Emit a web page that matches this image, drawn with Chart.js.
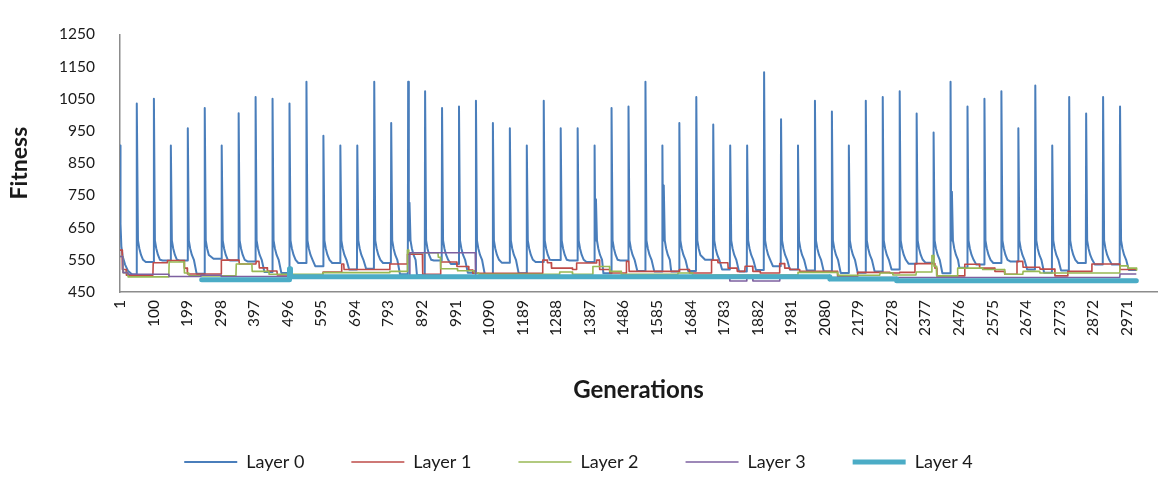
<!DOCTYPE html>
<html>
<head>
<meta charset="utf-8">
<script src="https://cdn.jsdelivr.net/npm/chart.js@4.4.1/dist/chart.umd.min.js"></script>
<style>
  html, body { margin: 0; padding: 0; background: #ffffff; }
  #wrap { width: 1158px; height: 477px; position: relative; }
</style>
</head>
<body>
<div id="wrap"><canvas id="fitnessChart"></canvas></div>
<script>
// --- Data ---
const xTickLabels = [1, 100, 199, 298, 397, 496, 595, 694, 793, 892, 991, 1090, 1189, 1288, 1387,
    1486, 1585, 1684, 1783, 1882, 1981, 2080, 2179, 2278, 2377, 2476, 2575, 2674, 2773, 2872, 2971];
const yTickLabels = [450, 550, 650, 750, 850, 950, 1050, 1150, 1250];
const seriesNames = ['Layer 0', 'Layer 1', 'Layer 2', 'Layer 3', 'Layer 4'];
const lastGen = 3000;

// Layer 0: start of the run, then one restart spike every 50 generations
const layer0Start = [[1, 905], [2, 770], [3, 662], [5, 592], [9, 560], [16, 535], [25, 515], [36, 505], [50, 504]];
const spikeGens = [51, 101, 151, 201, 251, 301, 351, 401, 451, 501, 551, 601, 651, 701, 751, 801, 851, 901, 951, 1001,
    1051, 1101, 1151, 1201, 1251, 1301, 1351, 1401, 1451, 1501, 1551, 1601, 1651, 1701, 1751, 1801, 1851, 1901, 1951, 2001,
    2051, 2101, 2151, 2201, 2251, 2301, 2351, 2401, 2451, 2501, 2551, 2601, 2651, 2701, 2751, 2801, 2851, 2901, 2951];
const spikePeaks = [1035, 1050, 905, 958, 1021, 905, 1005, 1055, 1050, 1035, 1103, 935, 905, 905, 1103, 975, 1103, 1073, 1021, 1026,
    1044, 975, 958, 905, 1044, 958, 958, 905, 1021, 1026, 1103, 905, 975, 1055, 970, 905, 905, 1132, 986, 905,
    1044, 1010, 905, 1044, 1055, 1073, 1004, 945, 1103, 1026, 1050, 1073, 958, 1091, 905, 1055, 1004, 1055, 1026];
const spikeFloors = [543, 548, 548, 507, 553, 548, 545, 512, 509, 540, 530, 540, 520, 522, 540, 505, 502, 548, 537, 510,
    505, 541, 508, 543, 549, 548, 543, 508, 548, 515, 514, 514, 515, 550, 520, 514, 518, 530, 520, 517,
    514, 509, 510, 514, 520, 538, 541, 508, 525, 535, 540, 545, 520, 510, 517, 540, 535, 535, 518];
// the stair-step fall after each spike: [generations after the peak, fitness]
const tailSteps = [[3, 610], [7, 585], [12, 565], [18, 550]];
// a few spikes have a second, smaller peak right after the first one
const secondGens = [855, 1405, 1605, 2455];
const secondPeaks = [727, 738, 781, 761];

// Layers 1-4: level changes, [generation, fitness] (the level holds until the next entry)
const layer1Steps = [[1, 580], [8, 520], [20, 502], [99, 541], [141, 548], [191, 524], [200, 506], [300, 549], [353, 537],
    [403, 545], [412, 525], [436, 515], [465, 503], [600, 512], [655, 537], [662, 520], [797, 537], [849, 567], [894, 505],
    [947, 543], [995, 529], [1030, 518], [1042, 508], [1248, 549], [1262, 541], [1274, 524], [1336, 520], [1348, 540],
    [1407, 549], [1416, 520], [1446, 509], [1495, 545], [1503, 514], [1651, 520], [1681, 509], [1746, 549], [1765, 541],
    [1795, 524], [1822, 514], [1845, 530], [1868, 514], [1890, 509], [1947, 538], [1962, 524], [1977, 520], [2006, 514],
    [2118, 497], [2177, 511], [2272, 509], [2301, 511], [2346, 538], [2405, 524], [2411, 500], [2493, 536], [2537, 524],
    [2582, 514], [2611, 505], [2647, 545], [2665, 527], [2715, 521], [2759, 500], [2797, 514], [2868, 537], [2951, 520],
    [3000, 520]];
const layer2Steps = [[1, 560], [10, 510], [25, 497], [146, 543], [191, 509], [205, 500], [344, 537], [391, 514], [441, 505],
    [600, 510], [797, 514], [849, 580], [853, 572], [940, 558], [947, 522], [997, 516], [1047, 509], [1060, 505],
    [1298, 512], [1336, 505], [1396, 529], [1446, 514], [1480, 505], [1647, 509], [1690, 503], [2001, 511], [2119, 502],
    [2243, 509], [2281, 503], [2350, 512], [2396, 563], [2402, 530], [2410, 500], [2472, 524], [2546, 520], [2611, 505],
    [2665, 514], [2715, 509], [2951, 531], [2975, 524], [3000, 518]];
const layer3Steps = [[1, 560], [10, 510], [25, 505], [146, 498], [240, 502], [300, 498], [856, 572], [1050, 500],
    [1800, 484], [1850, 495], [1868, 484], [1948, 495], [2300, 495], [2951, 506], [3000, 506]];
const layer4Steps = [[242, 488], [499, 488], [501, 522], [504, 497], [2095, 490], [2292, 485], [3000, 485]];

// --- Build the point lists ---
function buildLayer0() {
    const pts = layer0Start.map(([x, y]) => ({x, y}));
    spikeGens.forEach((g, i) => {
        const prevFloor = i === 0 ? layer0Start[layer0Start.length - 1][1] : spikeFloors[i - 1];
        const floor = spikeFloors[i];
        pts.push({x: g - 1, y: prevFloor}, {x: g, y: spikePeaks[i]});
        const j = secondGens.indexOf(g + 4);
        const shift = j >= 0 ? 4 : 0;
        if (j >= 0) {
            pts.push({x: g + 2, y: tailSteps[0][1]}, {x: g + 4, y: secondPeaks[j]});
        }
        tailSteps.forEach(([dx, v]) => {
            if (v > floor) pts.push({x: g + dx + shift, y: v});
        });
        pts.push({x: g + 26, y: floor});
    });
    pts.push({x: lastGen, y: spikeFloors[spikeFloors.length - 1]});
    return pts;
}

function buildSteps(steps) {
    const pts = [];
    steps.forEach(([g, v], i) => {
        pts.push({x: g, y: v});
        const next = steps[i + 1];
        if (next && next[0] - 1 > g) pts.push({x: next[0] - 1, y: v});
    });
    return pts;
}

const layerData = [buildLayer0(), buildSteps(layer1Steps), buildSteps(layer2Steps),
    buildSteps(layer3Steps), buildSteps(layer4Steps)];
const layerColors = ['#4a7ebb', '#be4b48', '#98b954', '#7d60a0', '#4bacc6'];
const layerWidths = [2, 1.6, 1.6, 1.6, 5];

// --- Chart ---
Chart.defaults.font.family = "Lato, 'Open Sans', sans-serif";
Chart.defaults.color = '#1a1a1a';

const ctx = document.getElementById('fitnessChart').getContext('2d');
const fitnessChart = new Chart(ctx, {
    type: 'line',
    data: {
        datasets: seriesNames.map((name, i) => ({
            label: name,
            data: layerData[i],
            borderColor: layerColors[i],
            backgroundColor: layerColors[i],
            borderWidth: layerWidths[i],
            borderCapStyle: i === 4 ? 'round' : 'butt',
            borderJoinStyle: 'round',
            pointRadius: 0,
            tension: 0,
            fill: false,
            order: 4 - i
        }))
    },
    options: {
        responsive: true,
        maintainAspectRatio: false,
        animation: false,
        events: [],
        layout: {
            padding: {top: 17, right: 1, bottom: -4, left: 0}
        },
        plugins: {
            legend: {
                position: 'bottom',
                labels: {
                    usePointStyle: true,
                    pointStyle: 'line',
                    pointStyleWidth: 53,
                    padding: 47,
                    color: '#1a1a1a',
                    font: {size: 18},
                    sort: (a, b) => a.datasetIndex - b.datasetIndex
                }
            },
            tooltip: {enabled: false}
        },
        scales: {
            x: {
                type: 'linear',
                min: 1,
                max: 3060,
                grid: {display: false, drawTicks: false},
                border: {display: true, color: '#8c8c8c', width: 1.5},
                afterBuildTicks: (scale) => {
                    scale.ticks = xTickLabels.map(v => ({value: v}));
                },
                afterFit: (scale) => { scale.height = 114; },
                ticks: {
                    autoSkip: false,
                    maxRotation: 90,
                    minRotation: 90,
                    padding: 8,
                    font: {size: 15.5},
                    callback: (v) => String(v)
                },
                title: {
                    display: true,
                    text: 'Generations',
                    font: {size: 24, weight: 'bold'},
                    padding: {top: 0, bottom: 1.6}
                }
            },
            y: {
                min: 450,
                max: 1250,
                grid: {display: false, drawTicks: false},
                border: {display: true, color: '#8c8c8c', width: 1.5},
                afterBuildTicks: (scale) => {
                    scale.ticks = yTickLabels.map(v => ({value: v}));
                },
                afterFit: (scale) => { scale.width = 120; },
                ticks: {
                    padding: 25,
                    font: {size: 15.5},
                    callback: (v) => String(v)
                },
                title: {
                    display: true,
                    text: 'Fitness',
                    font: {size: 23, weight: 'bold'},
                    padding: {top: 6, bottom: 0}
                }
            }
        }
    }
});
</script>
</body>
</html>
